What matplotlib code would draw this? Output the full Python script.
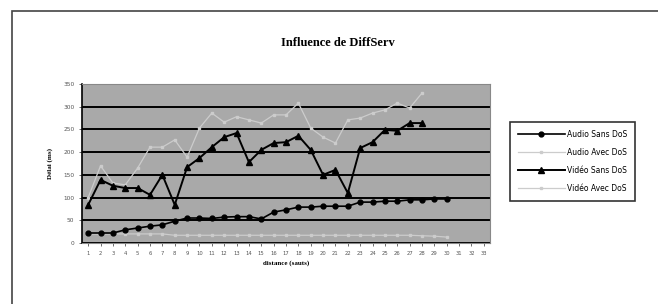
import numpy as np
import matplotlib
matplotlib.use("Agg")
import matplotlib.pyplot as plt
from matplotlib.patches import Rectangle

# Valeurs
categories = list(range(1, 34))
audio_sans = [22, 22, 22, 29, 33, 37, 40, 48, 55, 55, 54, 57, 58, 58, 53,
              68, 73, 79, 79, 81, 81, 81, 90, 90, 92, 92, 95, 95, 97, 97]
audio_avec = [20, 20, 20, 20, 20, 20, 20, 17, 17, 17, 17, 17, 17, 17, 17,
              17, 17, 17, 17, 17, 17, 17, 17, 17, 17, 17, 17, 16, 15, 13]
video_sans = [84, 139, 126, 121, 121, 106, 150, 84, 167, 187, 211, 233, 242, 178,
              205, 220, 222, 236, 205, 150, 161, 110, 209, 222, 249, 247, 264, 264]
video_avec = [100, 170, 132, 128, 165, 211, 211, 227, 189, 253, 286, 266, 278, 271,
              264, 282, 282, 308, 253, 233, 220, 271, 275, 286, 293, 308, 297, 330]
y_ticks = [0, 50, 100, 150, 200, 250, 300, 350]

fig = plt.figure(figsize=(6.58, 3.04), dpi=100)
fig.patch.set_facecolor("white")

# cadre du graphique (seuls les bords haut et gauche sont visibles)
fig.patches.append(Rectangle((12 / 658, -0.1), 1.2, 1 - 11 / 304 + 0.1,
                             transform=fig.transFigure, fill=False,
                             edgecolor="#444444", linewidth=1.2))

ax = fig.add_axes([82 / 658, 1 - 243 / 304, 408 / 658, 159 / 304])
ax.set_facecolor("#a9a9a9")

x = np.arange(len(categories))
ax.plot(x[:len(audio_avec)], audio_avec, color="#cccccc", lw=0.9,
        marker="s", ms=2, label="Audio Avec DoS", zorder=3)
ax.plot(x[:len(video_avec)], video_avec, color="#cccccc", lw=0.9,
        marker="s", ms=2, label="Vidéo Avec DoS", zorder=3)
ax.plot(x[:len(audio_sans)], audio_sans, color="black", lw=1.2,
        marker="o", ms=3.5, label="Audio Sans DoS", zorder=4)
ax.plot(x[:len(video_sans)], video_sans, color="black", lw=1.4,
        marker="^", ms=5, label="Vidéo Sans DoS", zorder=4)

ax.set_xlim(-0.5, len(categories) - 0.5)
ax.set_ylim(0, 350)
ax.set_yticks(y_ticks)
ax.set_xticks(x)
ax.set_xticklabels([str(c) for c in categories])
ax.tick_params(axis="x", labelsize=3.8, length=2, width=0.6, colors="#555555")
ax.tick_params(axis="y", labelsize=4.2, length=2, width=0.6, colors="#555555")
ax.yaxis.grid(True, color="black", lw=1.4)
ax.set_axisbelow(True)
for s in ["top", "right", "bottom"]:
    ax.spines[s].set_color("#888888")
ax.spines["left"].set_color("black")
ax.spines["left"].set_linewidth(1.2)

ax.set_xlabel("distance (sauts)", fontsize=5, fontweight="bold",
              family="Liberation Serif", labelpad=3)
ax.set_ylabel("Délai (ms)", fontsize=5, fontweight="bold",
              family="Liberation Serif", labelpad=7)
fig.text(338 / 658, 1 - 43 / 304, "Influence de DiffServ", ha="center",
         va="center", fontsize=9, fontweight="bold", family="Liberation Serif")

handles, labels = ax.get_legend_handles_labels()
order = [2, 0, 3, 1]
leg = fig.legend([handles[i] for i in order], [labels[i] for i in order],
                 loc="upper left", bbox_to_anchor=(510 / 658, 1 - 122 / 304),
                 fontsize=5.5, frameon=True, fancybox=False, edgecolor="black",
                 handlelength=6.2, handletextpad=0.3, labelspacing=1.2,
                 borderpad=1.0, borderaxespad=0)
leg.get_frame().set_linewidth(1.2)

fig.savefig("out.png", dpi=100)
